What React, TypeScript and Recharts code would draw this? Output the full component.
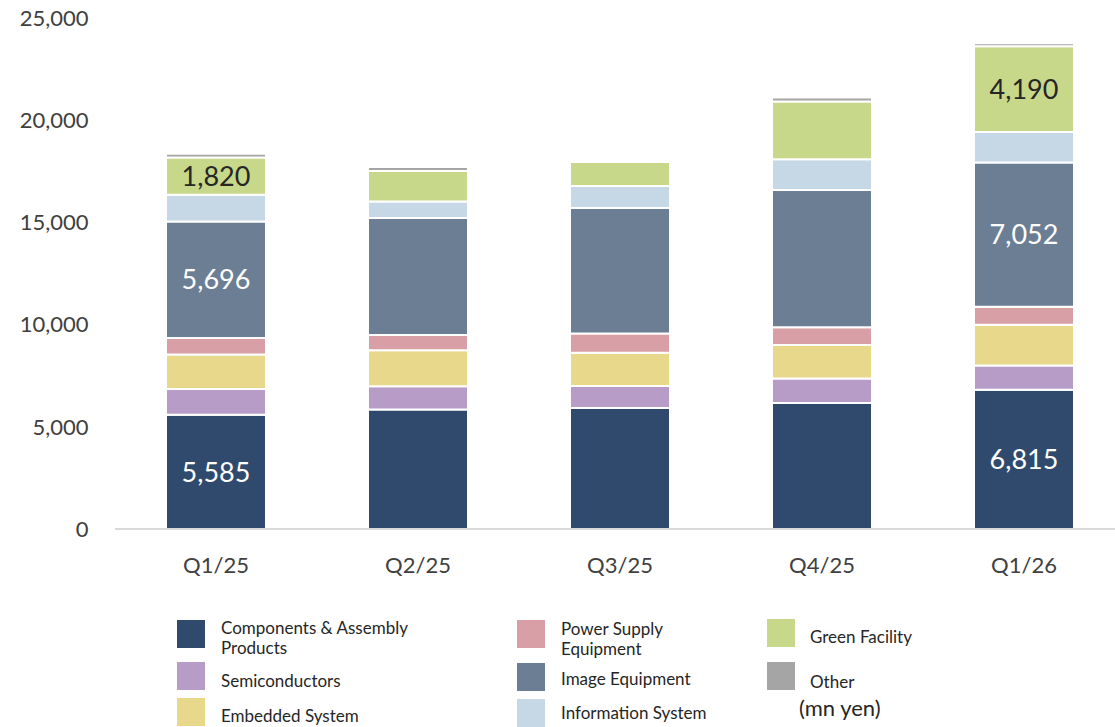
import { Bar, BarChart, LabelList, XAxis, YAxis } from "recharts";

// quarterly sales by segment (mn yen), bottom of stack first
const quarters = ["Q1/25", "Q2/25", "Q3/25", "Q4/25", "Q1/26"];
const components = [5585, 5850, 5920, 6160, 6815];
const semiconductors = [1260, 1130, 1070, 1200, 1180];
const embedded = [1690, 1770, 1630, 1640, 2000];
const powerSupply = [810, 740, 940, 870, 880];
const imageEquipment = [5696, 5720, 6150, 6720, 7052];
const informationSystem = [1310, 810, 1070, 1500, 1500];
const greenFacility = [1820, 1500, 1170, 2830, 4190];
const other = [190, 190, 0, 190, 150];

const yTicks = [0, 5000, 10000, 15000, 20000, 25000];
// only first and last quarter carry value labels
const labeledQuarters = [0, 4];

const FONT = "Lato, 'Open Sans', sans-serif";

const series = [
  { key: "components", name: "Components & Assembly Products", color: "#2F4A6D", values: components, label: "#FFFFFF" },
  { key: "semiconductors", name: "Semiconductors", color: "#B79CC8", values: semiconductors },
  { key: "embedded", name: "Embedded System", color: "#E7D88C", values: embedded },
  { key: "powerSupply", name: "Power Supply Equipment", color: "#D8A0A6", values: powerSupply },
  { key: "imageEquipment", name: "Image Equipment", color: "#6B7E94", values: imageEquipment, label: "#FFFFFF" },
  { key: "informationSystem", name: "Information System", color: "#C6D8E5", values: informationSystem },
  { key: "greenFacility", name: "Green Facility", color: "#C7D88A", values: greenFacility, label: "#262626" },
  { key: "other", name: "Other", color: "#A5A5A5", values: other },
];

const data = quarters.map((q, i) => {
  const row: Record<string, any> = { quarter: q };
  series.forEach((s) => {
    row[s.key] = s.values[i];
    if (s.label) row[s.key + "Label"] = labeledQuarters.includes(i) ? s.values[i] : null;
  });
  return row;
});

// legend placement: swatch corner, text left, text top, lines
const legendLayout: Record<string, { sx: number; sy: number; tx: number; ty: number; lines: string[] }> = {
  components: { sx: 177, sy: 620, tx: 221, ty: 617.5, lines: ["Components & Assembly", "Products"] },
  semiconductors: { sx: 177, sy: 662, tx: 221, ty: 670.5, lines: ["Semiconductors"] },
  embedded: { sx: 177, sy: 698, tx: 221, ty: 705.5, lines: ["Embedded System"] },
  powerSupply: { sx: 517, sy: 620, tx: 561, ty: 619, lines: ["Power Supply", "Equipment"] },
  imageEquipment: { sx: 517, sy: 663, tx: 561, ty: 668.5, lines: ["Image Equipment"] },
  informationSystem: { sx: 517, sy: 699, tx: 561, ty: 702.5, lines: ["Information System"] },
  greenFacility: { sx: 767, sy: 619, tx: 810, ty: 626.5, lines: ["Green Facility"] },
  other: { sx: 767, sy: 662, tx: 810, ty: 671.5, lines: ["Other"] },
};

const fmt = (v: any) => (v == null ? "" : Number(v).toLocaleString("en-US"));

export default function App() {
  return (
    <div
      style={{
        position: "absolute",
        left: 0,
        top: 0,
        width: 1115,
        height: 727,
        overflow: "hidden",
        background: "#FFFFFF",
        fontFamily: FONT,
      }}
    >
      <BarChart
        width={1125}
        height={600}
        data={data}
        margin={{ top: 18, right: 0, bottom: 0, left: 15 }}
        barCategoryGap={0}
      >
        <XAxis
          dataKey="quarter"
          height={71}
          tickLine={false}
          tickMargin={22}
          axisLine={{ stroke: "#D9D9D9", strokeWidth: 2 }}
          tick={{ fill: "#404040", fontSize: 22, fontFamily: FONT }}
        />
        <YAxis
          width={100}
          domain={[0, 25000]}
          ticks={yTicks}
          tickFormatter={fmt}
          axisLine={false}
          tickLine={false}
          tickMargin={20.5}
          tick={{ fill: "#404040", fontSize: 22, fontFamily: FONT }}
        />
        {series.map((s) => (
          <Bar
            key={s.key}
            dataKey={s.key}
            stackId="sales"
            fill={s.color}
            stroke="#FFFFFF"
            strokeWidth={2}
            barSize={100}
            isAnimationActive={false}
          >
            {s.label && (
              <LabelList
                dataKey={s.key + "Label"}
                position="center"
                formatter={fmt}
                fill={s.label}
                fontSize={27}
                fontFamily={FONT}
              />
            )}
          </Bar>
        ))}
      </BarChart>

      {series.map((s) => {
        const l = legendLayout[s.key];
        return (
          <div key={s.key}>
            <div
              style={{
                position: "absolute",
                left: l.sx,
                top: l.sy,
                width: 28,
                height: 28,
                background: s.color,
              }}
            />
            <div
              style={{
                position: "absolute",
                left: l.tx,
                top: l.ty,
                fontSize: 17,
                lineHeight: "20px",
                color: "#262626",
                whiteSpace: "nowrap",
              }}
            >
              {l.lines.map((t) => (
                <div key={t}>{t}</div>
              ))}
            </div>
          </div>
        );
      })}
      <div
        style={{
          position: "absolute",
          left: 799,
          top: 695,
          fontSize: 22,
          lineHeight: "26px",
          color: "#262626",
          whiteSpace: "nowrap",
        }}
      >
        (mn yen)
      </div>
    </div>
  );
}
